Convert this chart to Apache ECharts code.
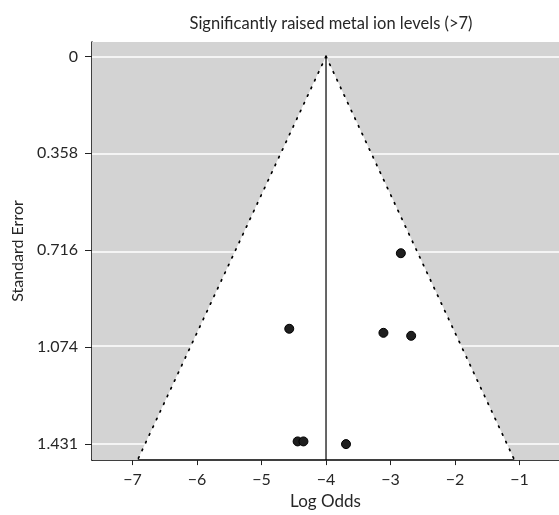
<!DOCTYPE html>
<html>
<head>
<meta charset="utf-8">
<script src="https://cdn.jsdelivr.net/npm/echarts@6/dist/echarts.min.js"></script>
<style>
  html, body { margin: 0; padding: 0; background: #fff; }
  #chart { width: 559px; height: 515px; }
</style>
</head>
<body>
<div id="chart"></div>
<script>
// Study estimates: [log odds, standard error]
const studies = [
  [-2.84, 0.727],
  [-4.57, 1.006],
  [-3.11, 1.021],
  [-2.68, 1.032],
  [-4.44, 1.422],
  [-4.35, 1.422],
  [-3.69, 1.432]
];

// Pooled estimate and 95% pseudo-confidence limits of the funnel
const funnelLeft = [[-4, 0], [-6.922, 1.491]];
const funnelRight = [[-4, 0], [-1.078, 1.491]];
const pooledLine = [[-4, 0], [-4, 1.491]];

// Axis ranges and tick labels
const xRange = [-7.628, -0.388];
const yRange = [-0.053, 1.491];
const xTicks = [-7, -6, -5, -4, -3, -2, -1];
const yTicks = [0, 0.358, 0.716, 1.074, 1.431];
const yTickLabels = ['0', '0.358', '0.716', '1.074', '1.431'];

const font = 'Lato';
const textColor = '#262626';
const chart = echarts.init(document.getElementById('chart'), null, { renderer: 'canvas' });

chart.setOption({
  animation: false,
  backgroundColor: '#fff',
  title: {
    text: 'Significantly raised metal ion levels (>7)',
    left: 326, top: 10, textAlign: 'center',
    textStyle: { fontFamily: font, fontSize: 16.5, fontWeight: 'normal', color: textColor }
  },
  grid: { left: 92, right: 0, top: 42, bottom: 53, containLabel: false },
  xAxis: {
    type: 'value',
    min: xRange[0], max: xRange[1],
    name: 'Log Odds', nameLocation: 'middle', nameGap: 31,
    nameTextStyle: { fontFamily: font, fontSize: 17, color: textColor },
    axisLine: { show: true, onZero: false, lineStyle: { color: '#000', width: 1.5 } },
    axisTick: { show: true, length: 5, customValues: xTicks, lineStyle: { color: '#222' } },
    axisLabel: {
      customValues: xTicks, margin: 12,
      fontFamily: font, fontSize: 16, color: textColor,
      formatter: v => (v < 0 ? '\u2212' + Math.abs(v) : String(v))
    },
    splitLine: { show: false }
  },
  yAxis: {
    type: 'value', inverse: true,
    min: yRange[0], max: yRange[1],
    name: 'Standard Error', nameLocation: 'middle', nameGap: 66, nameRotate: 90,
    nameTextStyle: { fontFamily: font, fontSize: 16, color: textColor },
    axisLine: { show: true, onZero: false, lineStyle: { color: '#000', width: 1.5 } },
    axisTick: { show: true, length: 7, customValues: yTicks, lineStyle: { color: '#222' } },
    axisLabel: {
      customValues: yTicks, margin: 14,
      fontFamily: font, fontSize: 16, color: textColor,
      formatter: v => {
        const i = yTicks.findIndex(t => Math.abs(t - v) < 1e-6);
        return i >= 0 ? yTickLabels[i] : '';
      }
    },
    splitLine: { show: false }
  },
  series: [
    {
      // grey region outside the funnel, with white reference lines at each tick
      type: 'custom',
      silent: true,
      z: 1,
      data: [0],
      renderItem: (params, api) => {
        const top = yRange[0], bot = yRange[1];
        const pts = [
          [xRange[0], top], [xRange[1], top], [xRange[1], bot],
          funnelRight[1], funnelRight[0], funnelLeft[1],
          [xRange[0], bot]
        ].map(p => api.coord(p));
        return {
          type: 'polygon',
          shape: { points: pts },
          style: { fill: '#d3d3d3' }
        };
      },
      markLine: {
        z: 2,
        silent: true, symbol: 'none', label: { show: false },
        lineStyle: { color: '#fff', type: 'solid', width: 1.5 },
        data: yTicks.map(t => ({ yAxis: t }))
      }
    },
    {
      type: 'line', data: funnelLeft, symbol: 'none', silent: true, z: 3,
      lineStyle: { color: '#000', width: 1.7, type: [1.5, 7], cap: 'round' }
    },
    {
      type: 'line', data: funnelRight, symbol: 'none', silent: true, z: 3,
      lineStyle: { color: '#000', width: 1.7, type: [1.5, 7], cap: 'round' }
    },
    {
      type: 'line', data: pooledLine, symbol: 'none', silent: true, z: 3,
      lineStyle: { color: '#000', width: 1.2 }
    },
    {
      type: 'scatter', data: studies, symbol: 'circle', symbolSize: 9, z: 4,
      itemStyle: { color: '#1e1e1e', borderColor: '#000', borderWidth: 1, opacity: 1 }
    }
  ]
});
</script>
</body>
</html>
